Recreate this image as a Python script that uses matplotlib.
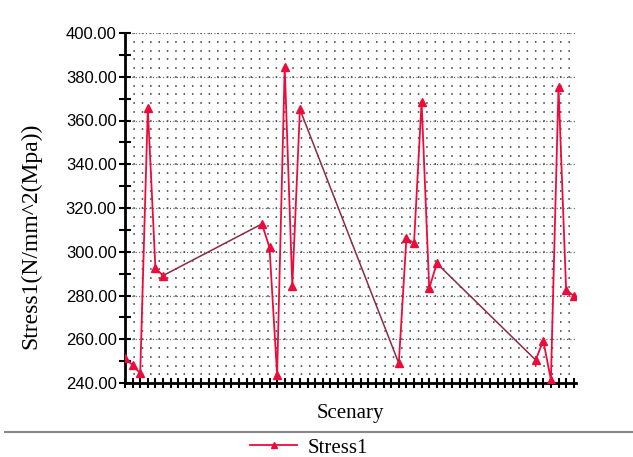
import matplotlib
matplotlib.use("Agg")
import matplotlib.pyplot as plt
from matplotlib.lines import Line2D
import numpy as np

# Data
scenary_idx = [0, 1, 2, 3, 4, 5,
               18, 19, 20, 21, 22, 23,
               36, 37, 38, 39, 40, 41,
               54, 55, 56, 57, 58, 59]
stress1 = [251.4, 248.2, 244.4, 365.6, 292.4, 289.1,
           312.7, 302.0, 243.7, 384.6, 284.3, 365.1,
           249.0, 306.1, 303.9, 368.6, 283.3, 294.7,
           250.5, 259.4, 241.4, 375.5, 282.5, 279.8]
n_categories = 60
y_ticks = [240, 260, 280, 300, 320, 340, 360, 380, 400]
series_name = "Stress1"
x_label = "Scenary"
y_label = "Stress1(N/mm^2(Mpa))"

RED = "#EC0C3C"
DARK = "#8C2A45"
SERIF = ["Liberation Serif", "DejaVu Serif"]
SANS = ["Liberation Sans", "DejaVu Sans"]

fig = plt.figure(figsize=(6.33, 4.57), dpi=100)
ax = fig.add_axes([125/633, 1-383/457, (576-125)/633, 350/457])

ax.set_xlim(0, 59.3)
ax.set_ylim(240, 400)

# grid of dots: horizontal dotted rows, dot spacing = one category step
ax_w_pt = (576 - 125) * 72 / 100
step_pt = ax_w_pt / 59.3
for yv in np.arange(244, 401, 4):
    ax.axhline(yv, color="#333333", lw=1.1, ls=(0, (1.0, step_pt - 1.0)), zorder=0)
for yv in np.arange(260, 401, 20):
    ax.axhline(yv, color="#555555", lw=0.9,
               ls=(step_pt / 2, (0.8, step_pt / 2 - 0.8)), zorder=0)

# line split: within groups red, between groups darker
x = np.array(scenary_idx)
y = np.array(stress1)
breaks = np.where(np.diff(x) > 1)[0]
starts = np.concatenate([[0], breaks + 1])
ends = np.concatenate([breaks + 1, [len(x)]])
for s, e in zip(starts, ends):
    ax.plot(x[s:e], y[s:e], color=RED, lw=1.3, zorder=3)
for b in breaks:
    ax.plot(x[b:b+2], y[b:b+2], color=DARK, lw=1.1, zorder=2)
ax.plot(x, y, ls="none", marker="^", ms=6, color=RED, zorder=4)

# axes styling
for sp in ["top", "right"]:
    ax.spines[sp].set_visible(False)
for sp in ["left", "bottom"]:
    ax.spines[sp].set_linewidth(2)
    ax.spines[sp].set_color("black")

ax.set_yticks(y_ticks)
ax.set_yticklabels([f"{v:.2f}" for v in y_ticks], fontfamily=SANS, fontsize=12)
ax.set_yticks(np.arange(250, 400, 20), minor=True)
ax.tick_params(axis="y", which="both", direction="inout", length=8, width=1.5, pad=2)
ax.set_xticks(range(n_categories))
ax.set_xticklabels([])
ax.tick_params(axis="x", which="both", direction="inout", length=7, width=1.5)

ax.set_xlabel(x_label, fontfamily=SERIF, fontsize=15, labelpad=8)
ax.set_ylabel(y_label, fontfamily=SERIF, fontsize=17)
ax.yaxis.set_label_coords(-0.185, 0.42)

# separator line
fig.add_artist(Line2D([5/633, 1.0], [1-432/457, 1-432/457], color="#888888", lw=1.5))

handle = Line2D([], [], color=RED, lw=1.3, marker="^", ms=5)
fig.legend([handle], [series_name], loc="center", bbox_to_anchor=(0.488, 1-448/457),
           frameon=False, prop={"family": SERIF, "size": 15}, handlelength=2.3,
           handletextpad=0.5, borderpad=0)

fig.savefig("out.png", dpi=100)
